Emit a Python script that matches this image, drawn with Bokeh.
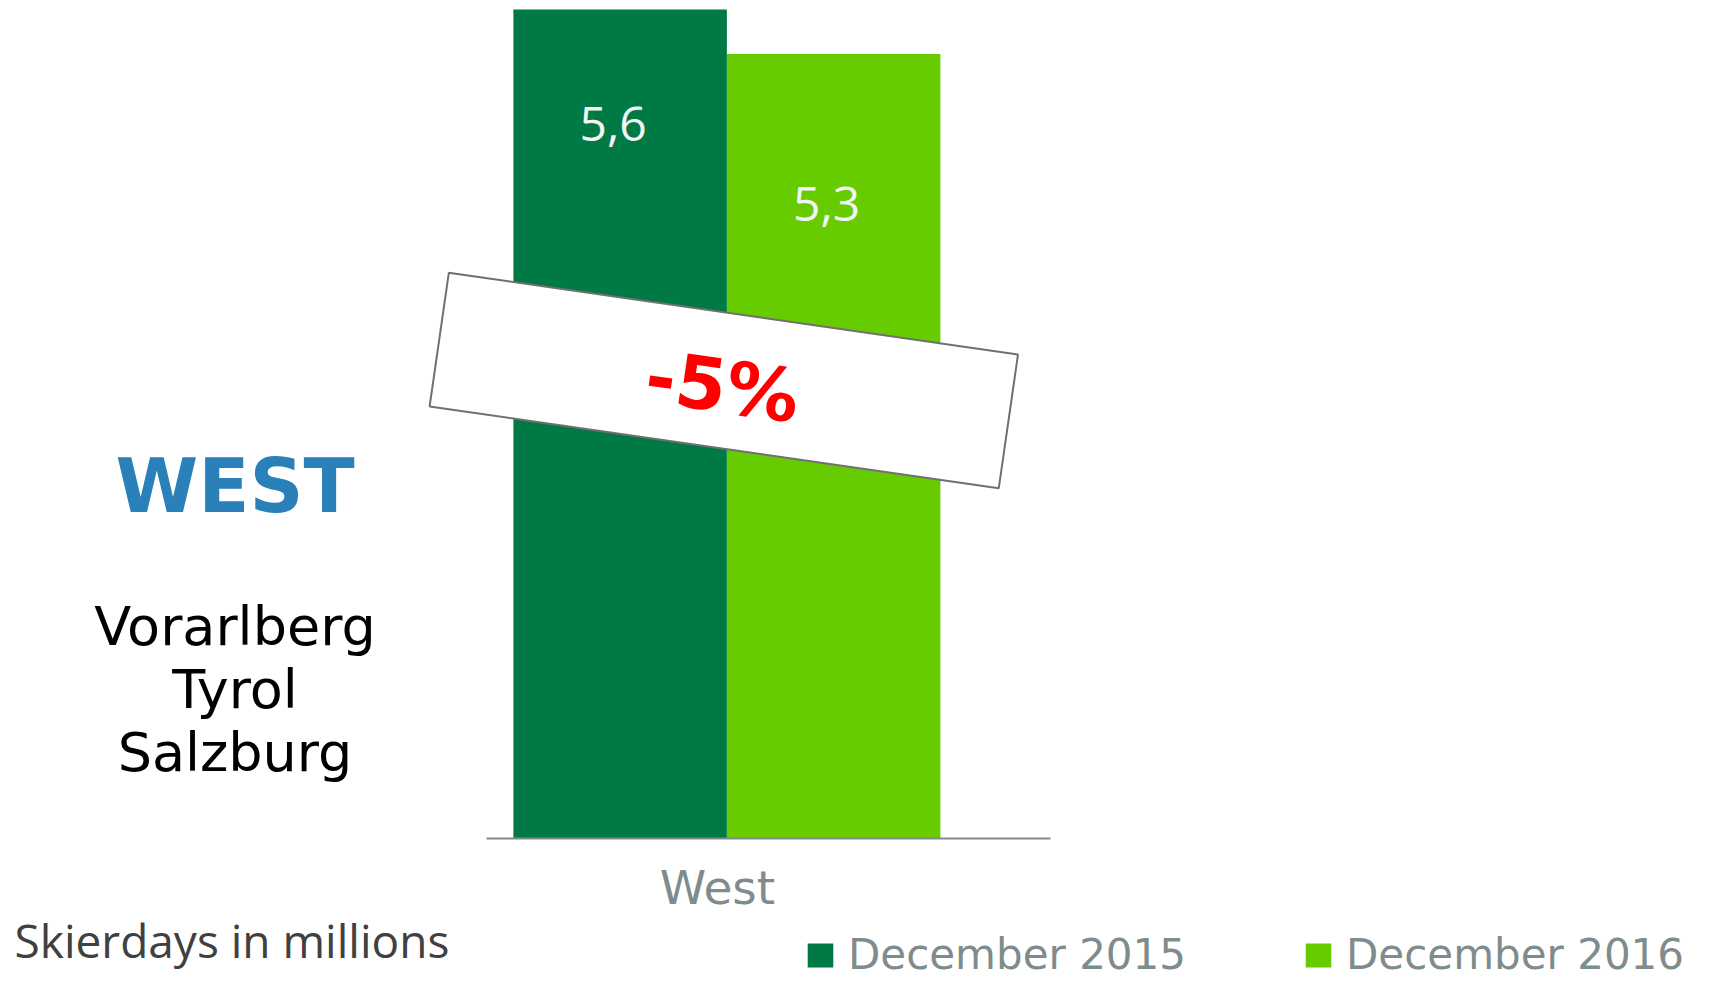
import math
from bokeh.plotting import figure
from bokeh.models import Range1d, FixedTicker, Label, PolyAnnotation, ColumnDataSource
from bokeh.transform import dodge
from bokeh.embed import file_html
from bokeh.resources import INLINE
from bokeh.core.properties import value

# ---------------- data ----------------
categories = ["West"]
series_names = ["December 2015", "December 2016"]
values_2015 = [5.6]
values_2016 = [5.3]
region_title = "WEST"
region_states = ["Vorarlberg", "Tyrol", "Salzburg"]
unit_note = "Skierdays in millions"

# ---------------- styles / layout (page pixels) ----------------
COL_2015 = "#007A45"
COL_2016 = "#66CC00"
COL_AXIS = "#7F8C8D"
COL_TITLE = "#2A80B9"
FIG_W, FIG_H = 1705, 979
AXIS_L, AXIS_R, BAR_TOP_PX, AXIS_Y = 486, 1050, 9, 838
CAT_PX = 717          # page x of the category tick
GROUP_PX = 427        # pixels per x data unit (width of the bar group)
BAR_W = 0.5
BAR_SHIFT = 0.022
BAR_OFFSETS = [-0.25 + BAR_SHIFT, 0.25 + BAR_SHIFT]
LABEL_DROP = [114, 150]   # px below bar top for the value labels
SIDE_X = 234.5
TITLE_Y = 485
STATE_YS = [625.5, 688.5, 751.5]
NOTE_X, NOTE_Y = 14, 939

YMAX = max(values_2015 + values_2016)


def dx(px):
    return (px - CAT_PX) / GROUP_PX


def dy(py):
    return (AXIS_Y - py) / (AXIS_Y - BAR_TOP_PX) * YMAX


p = figure(width=FIG_W, height=FIG_H,
           x_range=Range1d(dx(0), dx(FIG_W)),
           y_range=Range1d(dy(FIG_H), dy(0)),
           output_backend="svg", toolbar_location=None,
           y_axis_location=None,
           min_border_left=0, min_border_right=0,
           min_border_top=0, min_border_bottom=0)
p.outline_line_color = None
p.grid.visible = False
p.background_fill_color = "white"
p.border_fill_color = "white"

src = ColumnDataSource(dict(
    x=list(range(len(categories))),
    v2015=values_2015,
    v2016=values_2016,
    l2015=[f"{v:.1f}".replace(".", ",") for v in values_2015],
    l2016=[f"{v:.1f}".replace(".", ",") for v in values_2016],
))

for col, lab, color, off, name, drop in [
    ("v2015", "l2015", COL_2015, BAR_OFFSETS[0], series_names[0], LABEL_DROP[0]),
    ("v2016", "l2016", COL_2016, BAR_OFFSETS[1], series_names[1], LABEL_DROP[1]),
]:
    p.vbar(x=dodge("x", off, range=p.x_range), top=col, width=BAR_W, bottom=0,
           source=src, fill_color=color, line_color=None, legend_label=name)
    p.text(x=dodge("x", off, range=p.x_range), y=col, text=lab, source=src,
           text_font=value("Open Sans"), text_font_size="48px",
           text_color="#F4F4F4", text_align="center", text_baseline="middle",
           x_offset=-7, y_offset=drop)

# category axis, drawn at y = 0 inside the frame
ax = p.xaxis[0]
ax.fixed_location = 0
ax.bounds = (dx(AXIS_L), dx(AXIS_R))
ax.ticker = FixedTicker(ticks=list(range(len(categories))))
ax.major_label_overrides = {i: c for i, c in enumerate(categories)}
ax.axis_line_color = COL_AXIS
ax.axis_line_width = 2
ax.major_tick_line_color = None
ax.minor_tick_line_color = None
ax.major_label_text_font = "DejaVu Sans"
ax.major_label_text_font_size = "47px"
ax.major_label_text_color = COL_AXIS
ax.major_label_standoff = 15

# legend
lg = p.legend[0]
lg.orientation = "horizontal"
lg.location = (804, 0)
lg.glyph_width = 32
lg.glyph_height = 30
lg.label_standoff = 12
lg.spacing = 116
lg.padding = 0
lg.margin = 0
lg.border_line_color = None
lg.background_fill_alpha = 0
lg.label_text_font = "DejaVu Sans"
lg.label_text_font_size = "42px"
lg.label_text_color = COL_AXIS

# change box
cx, cy, bw, bh, ang = 723.3, 380.0, 575, 135, 8.17
t = math.radians(ang)
corners = [(-bw / 2, -bh / 2), (bw / 2, -bh / 2), (bw / 2, bh / 2), (-bw / 2, bh / 2)]
xs, ys = [], []
for lx, ly in corners:
    px = cx + lx * math.cos(t) - ly * math.sin(t)
    py = cy + lx * math.sin(t) + ly * math.cos(t)
    xs.append(dx(px))
    ys.append(dy(py))
p.add_layout(PolyAnnotation(xs=xs, ys=ys, fill_color="white", fill_alpha=1.0,
                            line_color="#707070", line_alpha=1.0, line_width=2))

pct = (values_2016[0] - values_2015[0]) / values_2015[0] * 100
pct_text = f"{pct:.0f}%"
p.add_layout(Label(x=dx(722), y=dy(386), text=pct_text, angle=-ang, angle_units="deg",
                   text_align="center", text_baseline="middle",
                   text_font="DejaVu Sans", text_font_style="bold",
                   text_font_size="73px", text_color="#FF0000"))

# side texts
p.add_layout(Label(x=dx(SIDE_X), y=dy(TITLE_Y), text=region_title, text_align="center",
                   text_baseline="alphabetic", text_font="DejaVu Sans",
                   text_font_style="bold", text_font_size="75px", text_color=COL_TITLE))
for name, base in zip(region_states, STATE_YS):
    p.add_layout(Label(x=dx(SIDE_X), y=dy(base), text=name, text_align="center",
                       text_baseline="alphabetic", text_font="DejaVu Sans",
                       text_font_size="54px", text_color="black"))
p.add_layout(Label(x=dx(NOTE_X), y=dy(NOTE_Y), text=unit_note, text_align="left",
                   text_baseline="alphabetic", text_font="Open Sans",
                   text_font_size="46px", text_color="#404040"))

open("out.html", "w").write(file_html(p, INLINE))
